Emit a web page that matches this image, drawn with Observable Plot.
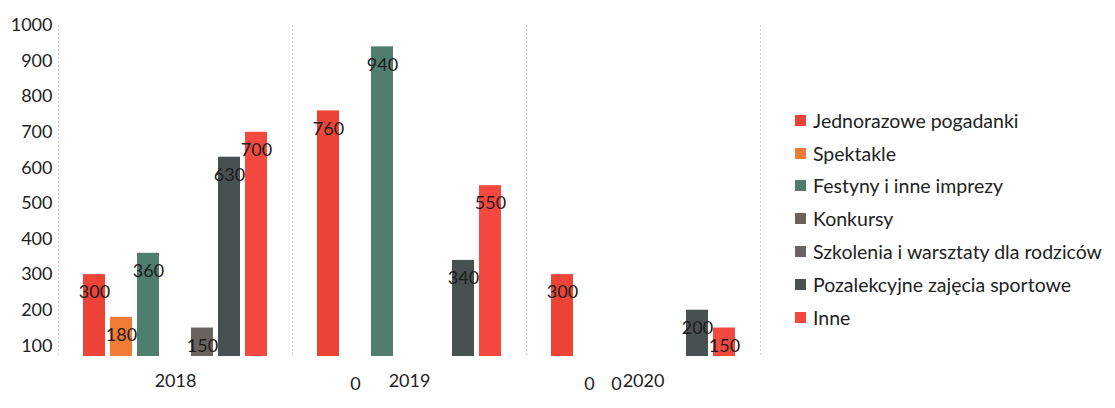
<!DOCTYPE html>
<html><head><meta charset="utf-8">
<script src="https://cdn.jsdelivr.net/npm/d3@7"></script>
<script src="https://cdn.jsdelivr.net/npm/@observablehq/plot@0.6"></script>
<style>
body{margin:0;background:#fff;font-family:Lato,sans-serif}
#wrap{position:relative;width:1115px;height:408px;overflow:hidden}
#legend{position:absolute;left:795px;top:104px}
.item{display:flex;align-items:center;height:32.8px;font-size:19.5px;color:#222;white-space:nowrap}
.sw{width:11px;height:11px;margin-right:7px;flex:none}
</style></head><body><div id="wrap"><div id="chart"></div><div id="legend"></div></div>
<script>
const years = ["2018", "2019", "2020"];
const series = ["Jednorazowe pogadanki", "Spektakle", "Festyny i inne imprezy", "Konkursy", "Szkolenia i warsztaty dla rodziców", "Pozalekcyjne zajęcia sportowe", "Inne"];
const colors = ["#ee4438", "#f27b35", "#4f7d6e", "#6e605d", "#6b635f", "#465150", "#f5493f"];
const values2018 = [300, 180, 360, 0, 150, 630, 700];
const values2019 = [760, 0, 940, 0, 0, 340, 550];
const values2020 = [300, 0, 0, 0, 0, 200, 150];
const yTicks = [100, 200, 300, 400, 500, 600, 700, 800, 900, 1000];
const baseline = 70;
// zero labels visible in the reference (others hidden behind the year labels)
const zeroLabelSeries = ["Spektakle", "Festyny i inne imprezy"];

const byYear = [values2018, values2019, values2020];
const rows = [];
years.forEach((yr, i) => series.forEach((s, j) => rows.push({year: yr, series: s, value: byYear[i][j]})));
const nonzero = rows.filter(d => d.value > 0);
const zeros = rows.filter(d => d.value === 0 && zeroLabelSeries.includes(d.series));

const chart = Plot.plot({
  width: 1115, height: 408,
  marginLeft: 57, marginRight: 355, marginTop: 25, marginBottom: 52,
  style: {fontFamily: "Lato, sans-serif", fontSize: "18px", color: "#222", background: "white"},
  fx: {domain: years, padding: 0, label: null, tickSize: 0, tickPadding: 18},
  x: {domain: series, paddingInner: 0.2, paddingOuter: 0.83, axis: null},
  y: {domain: [baseline, 1000], ticks: yTicks, tickSize: 0, tickPadding: 6, label: null, tickFormat: d => String(d)},
  color: {domain: series, range: colors},
  marks: [
    Plot.frame({anchor: "left", stroke: "#cfcfcf", strokeDasharray: "1,3"}),
    Plot.frame({anchor: "right", stroke: "#cfcfcf", strokeDasharray: "1,3"}),
    Plot.barY(nonzero, {fx: "year", x: "series", y1: baseline, y2: "value", fill: "series"}),
    Plot.text(nonzero, {fx: "year", x: "series", y: "value", text: d => String(d.value), dy: 18, fill: "#1c1c1c", fontSize: 18}),
    Plot.text(zeros, {fx: "year", x: "series", y: d => 0, text: d => "0", dy: 3, fill: "#1c1c1c", fontSize: 18})
  ]
});
document.getElementById("chart").appendChild(chart);

const legend = document.getElementById("legend");
series.forEach((s, i) => {
  const it = document.createElement("div");
  it.className = "item";
  const sw = document.createElement("span");
  sw.className = "sw";
  sw.style.background = colors[i];
  const tx = document.createElement("span");
  tx.textContent = s;
  it.appendChild(sw); it.appendChild(tx);
  legend.appendChild(it);
});
</script>
</body></html>
